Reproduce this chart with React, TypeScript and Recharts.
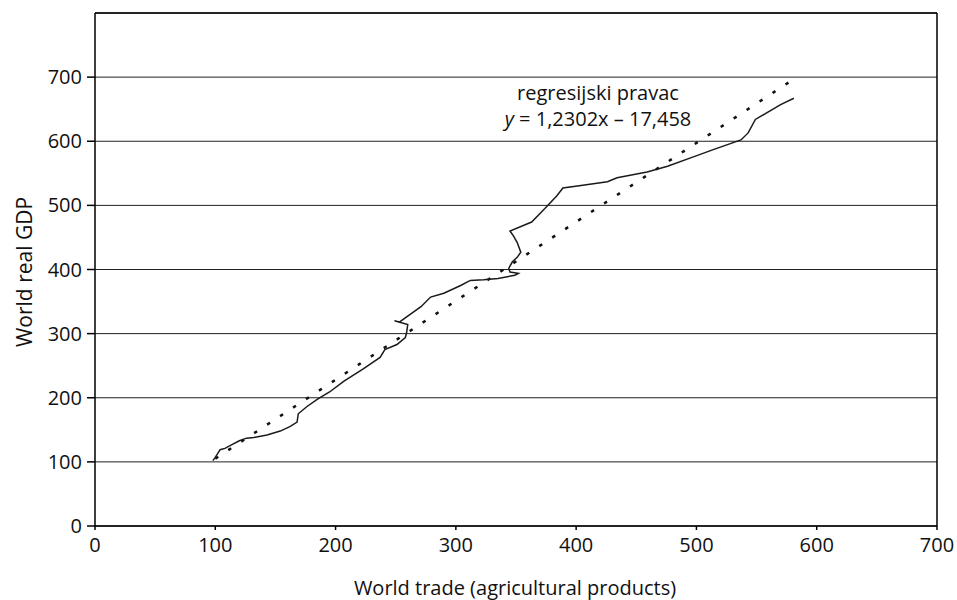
import React from 'react';
import { LineChart, Line, XAxis, YAxis, CartesianGrid, ReferenceLine } from 'recharts';

const tradeX = [98, 100, 104, 108, 115, 120, 126, 132, 143, 154, 162, 168, 169, 176, 185, 195, 207, 223, 237, 241, 251, 258, 259, 260, 249, 253, 262, 271, 279, 290, 304, 312, 323, 335, 349, 352, 345, 344, 347, 351, 354, 351, 348, 345, 363, 374, 384, 389, 404, 426, 434, 459, 476, 498, 514, 537, 543, 549, 570, 581];
const gdpY = [102, 107, 119, 121, 128, 133, 137, 138, 142, 148, 155, 162, 175, 186, 198, 209, 226, 245, 263, 275, 283, 294, 301, 314, 320, 318, 330, 342, 357, 363, 375, 383, 384, 386, 391, 394, 396, 402, 412, 419, 427, 442, 452, 460, 474, 495, 515, 527, 531, 537, 543, 552, 561, 576, 587, 602, 613, 634, 657, 667];

// regression line endpoints
const regX = [100, 581];
const regY = [105, 697];

const xTicks = [0, 100, 200, 300, 400, 500, 600, 700];
const yTicks = [0, 100, 200, 300, 400, 500, 600, 700];

const series = tradeX.map((x, i) => ({ x, y: gdpY[i] }));
const regression = regX.map((x, i) => ({ x, y: regY[i] }));

const font = '"Open Sans", sans-serif';
const tickStyle = { fontSize: 20, fill: '#111', fontFamily: font };

export default function App() {
  return (
    <div style={{ position: 'absolute', left: 0, top: 0, width: 957, height: 600, background: '#fff', fontFamily: font }}>
      <LineChart width={957} height={600} margin={{ top: 13, right: 20, bottom: 0, left: 0 }}>
        <CartesianGrid vertical={false} stroke="#222" strokeWidth={1} />
        <XAxis
          type="number"
          dataKey="x"
          domain={[0, 700]}
          ticks={xTicks}
          height={74}
          tickSize={4}
          tickMargin={8}
          tick={tickStyle}
          stroke="#000"
          strokeWidth={1.5}
          allowDuplicatedCategory={false}
        />
        <YAxis
          type="number"
          domain={[0, 800]}
          ticks={yTicks}
          width={95}
          tickSize={8}
          tickMargin={5}
          tick={tickStyle}
          stroke="#000"
          strokeWidth={1.5}
        />
        <ReferenceLine y={800} stroke="#000" strokeWidth={1.5} />
        <ReferenceLine x={700} stroke="#000" strokeWidth={1.5} />
        <Line
          data={regression}
          dataKey="y"
          type="linear"
          stroke="#111"
          strokeWidth={2.5}
          strokeDasharray="3.5 12"
          dot={false}
          isAnimationActive={false}
        />
        <Line
          data={series}
          dataKey="y"
          type="linear"
          stroke="#1a1a1a"
          strokeWidth={1.5}
          dot={false}
          isAnimationActive={false}
        />
      </LineChart>

      <div style={{ position: 'absolute', left: 478, top: 80, width: 240, textAlign: 'center', fontSize: 20, lineHeight: '26px', color: '#111' }}>
        <div>regresijski pravac</div>
        <div><i>y</i> = 1,2302x – 17,458</div>
      </div>

      <div style={{ position: 'absolute', left: 515, top: 587, transform: 'translate(-50%, -50%)', whiteSpace: 'nowrap', fontSize: 20, color: '#111' }}>
        World trade (agricultural products)
      </div>

      <div style={{ position: 'absolute', left: 24, top: 272, transform: 'translate(-50%, -50%) rotate(-90deg)', whiteSpace: 'nowrap', fontSize: 21, color: '#111' }}>
        World real GDP
      </div>
    </div>
  );
}
